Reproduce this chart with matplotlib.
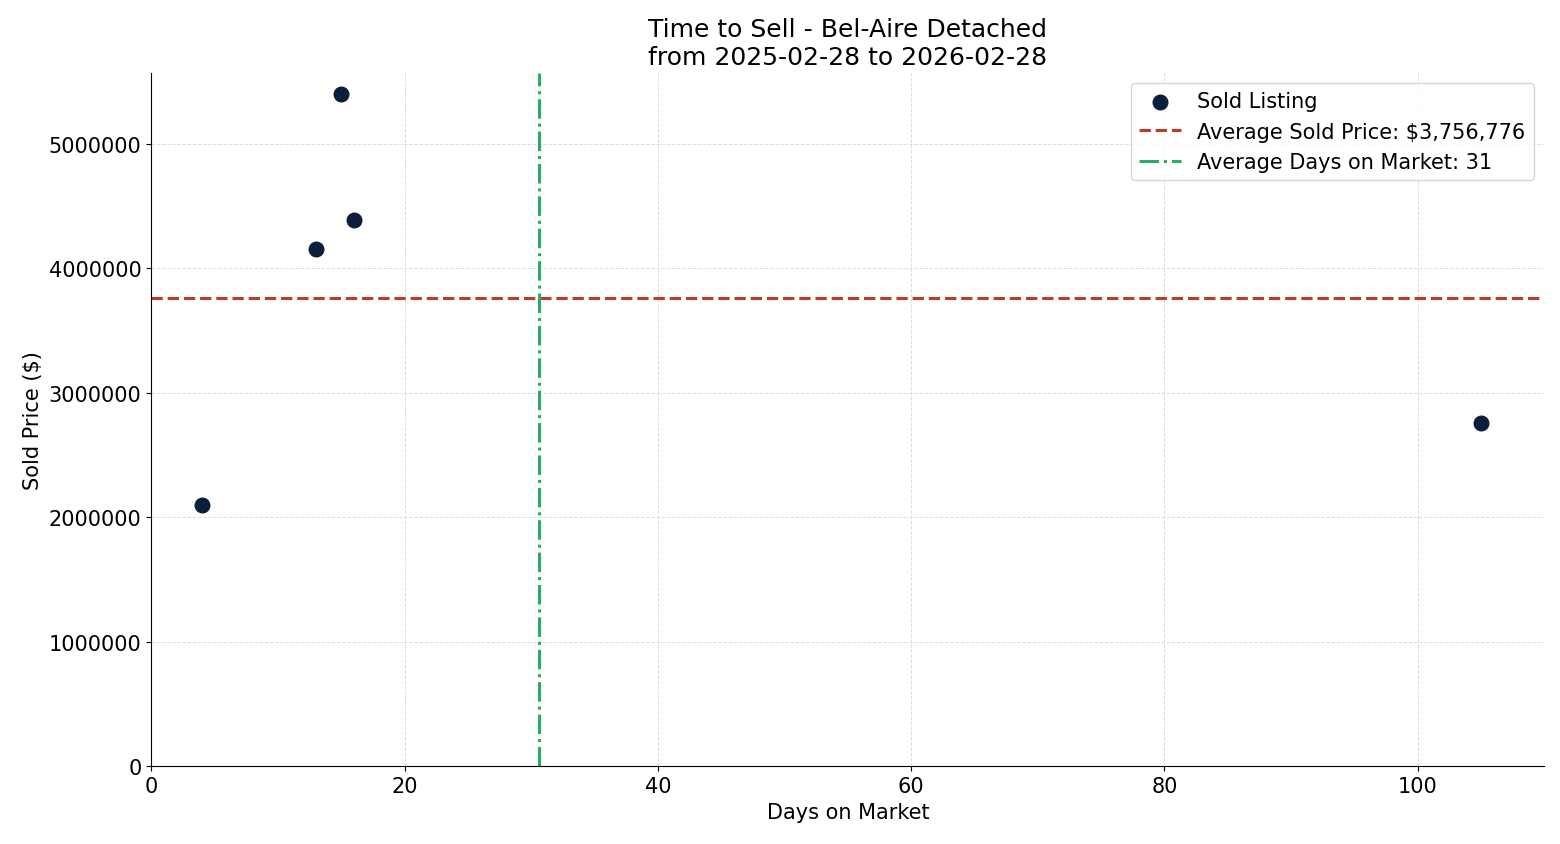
import matplotlib
matplotlib.use("Agg")
import matplotlib.pyplot as plt
import numpy as np

days = [4, 13, 15, 16, 105]
prices = [2100000, 4150000, 5395000, 4385000, 2753880]

fig, ax = plt.subplots(figsize=(15.6, 8.45), dpi=100)
ax.scatter(days, prices, s=110, color="#0b1f3a", zorder=3, label="Sold Listing")
mp = np.mean(prices); md = np.mean(days)
ax.axhline(mp, color="#c0392b", ls="--", lw=2.2, label=f"Average Sold Price: ${mp:,.0f}")
ax.axvline(md, color="#27ae60", ls="-.", lw=2.2, label=f"Average Days on Market: {md:.0f}")
ax.set_xlim(0, 110)
ax.set_ylim(0, 5.57e6)
ax.ticklabel_format(axis="y", style="plain", useOffset=False)
ax.grid(True, ls="--", lw=0.7, color="#dddddd")
ax.set_axisbelow(True)
for s in ["top", "right"]:
    ax.spines[s].set_visible(False)
ax.tick_params(labelsize=15)
ax.set_xlabel("Days on Market", fontsize=15)
ax.set_ylabel("Sold Price ($)", fontsize=15)
ax.set_title("Time to Sell - Bel-Aire Detached\nfrom 2025-02-28 to 2026-02-28", fontsize=18)
ax.legend(loc="upper right", fontsize=15)
fig.subplots_adjust(left=0.097, right=0.99, top=0.913, bottom=0.092)
fig.savefig("out.png")
